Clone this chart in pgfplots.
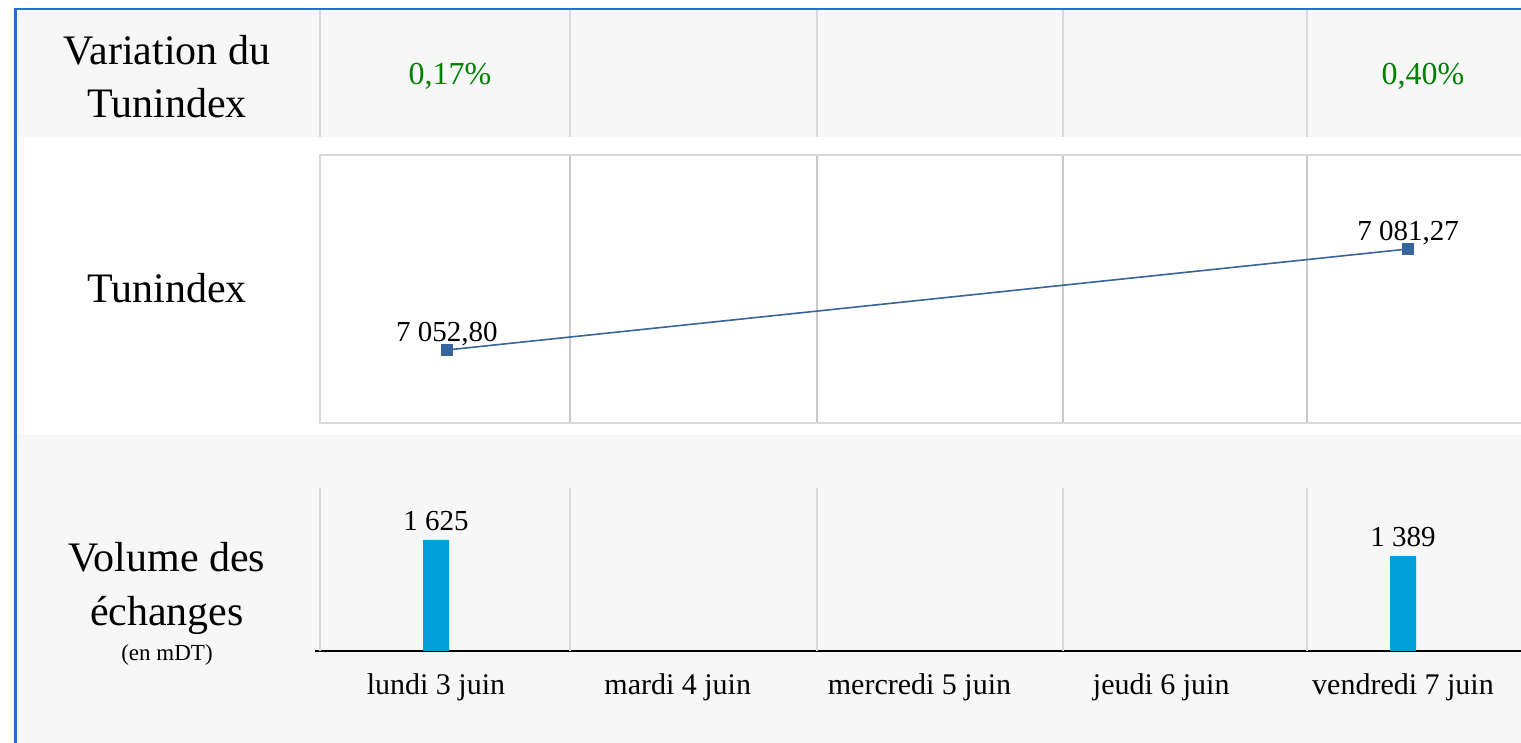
\documentclass[border=0pt]{standalone}
\usepackage{fontspec}
\setmainfont{Liberation Serif}
\usepackage{pgfplots}
\pgfplotsset{compat=1.18}
\definecolor{bordblue}{HTML}{2270D4}
\definecolor{bggray}{HTML}{F7F7F7}
\definecolor{sepgray}{HTML}{D9D9D9}
\definecolor{gridgray}{HTML}{C9C9C9}
\definecolor{framegray}{HTML}{D9D9D9}
\definecolor{linecol}{HTML}{35659C}
\definecolor{barcol}{HTML}{009FD9}
\definecolor{pctgreen}{HTML}{008000}
\begin{document}
\begin{tikzpicture}
\path[use as bounding box] (0,0) rectangle (760.5pt,371.5pt);
\clip (0,0) rectangle (760.5pt,371.5pt);
\fill[white] (0,0) rectangle (760.5pt,371.5pt);
\fill[bggray] (8pt,303pt) rectangle (760.5pt,366pt);
\fill[bggray] (8pt,0pt) rectangle (760.5pt,154pt);
\foreach \x in {160,285,408.5,531.5,653.5}
  \draw[sepgray, line width=0.7pt] (\x pt,303pt) -- (\x pt,367pt);
\draw[bordblue, line width=1.4pt] (7.8pt,0pt) -- (7.8pt,367pt) -- (770pt,367pt);

% left labels
\begin{scope}[every node/.style={anchor=base, inner sep=0pt, font=\fontsize{21}{26}\selectfont}]
\node at (83.5pt,339pt) {Variation du};
\node at (83.5pt,312.5pt) {Tunindex};
\node at (83.5pt,220pt) {Tunindex};
\node at (83.5pt,85.5pt) {Volume des};
\node at (83.5pt,58.5pt) {échanges};
\node[font=\fontsize{11.5}{14}\selectfont] at (83.5pt,41pt) {(en mDT)};
\end{scope}

% top row: variation
\begin{axis}[at={(160pt,329pt)}, anchor=west, scale only axis,
  width=620pt, height=10pt, xmin=-0.5344, xmax=4.5632, ymin=-1, ymax=1,
  hide axis, clip=false]
\addplot[draw=none, mark=none, nodes near coords, point meta=explicit symbolic,
  nodes near coords style={anchor=base, inner sep=0pt, text=pctgreen, font=\fontsize{16}{19}\selectfont}]
  coordinates {(0,0) [0,17\%] (4,0) [0,40\%]};
\end{axis}

% middle row: Tunindex line
\begin{axis}[at={(160pt,160pt)}, anchor=south west, scale only axis,
  width=620pt, height=134pt,
  xmin=-0.5286, xmax=4.6327, ymin=7032.22, ymax=7107.76,
  xtick={0.512,1.540,2.564,3.580}, xticklabels={}, ytick=\empty,
  xmajorgrids, major grid style={gridgray, line width=0.7pt},
  major tick length=0pt,
  axis line style={framegray, line width=1pt},
  clip=false]
\addplot[linecol, line width=0.8pt, mark=square*, mark size=2.4pt,
  mark options={fill=linecol, draw=linecol},
  nodes near coords, point meta=explicit symbolic,
  nodes near coords style={anchor=base, inner sep=0pt, yshift=4pt, text=black, font=\fontsize{14.5}{17}\selectfont}]
  coordinates {(0,7052.80) [7~052,80] (4,7081.27) [7~081,27]};
\end{axis}

% bottom row: volume bars
\begin{axis}[at={(157.5pt,46pt)}, anchor=south west, scale only axis,
  width=622.5pt, height=81.5pt,
  xmin=-0.5005, xmax=4.6495, ymin=0, ymax=2386,
  ybar, bar width=13pt,
  axis x line*=bottom, axis y line=none,
  x axis line style={black, line width=1pt, -},
  xtick={0,1,2,3,4},
  xticklabels={lundi 3 juin, mardi 4 juin, mercredi 5 juin, jeudi 6 juin, vendredi 7 juin},
  major tick length=0pt,
  xticklabel style={font=\fontsize{15}{18}\selectfont, yshift=-8pt, text=black},
  extra x ticks={-0.4798,0.5543,1.5760,2.5936,3.6029},
  extra x tick labels={},
  extra x tick style={grid=major, major grid style={sepgray, line width=0.7pt}},
  ytick=\empty, clip=false]
\addplot[fill=barcol, draw=none, nodes near coords, point meta=explicit symbolic,
  nodes near coords style={anchor=base, inner sep=0pt, yshift=4.75pt, text=black, font=\fontsize{14.5}{17}\selectfont}]
  coordinates {(0,1625) [1~625] (4,1389) [1~389]};
\end{axis}
\end{tikzpicture}
\end{document}
